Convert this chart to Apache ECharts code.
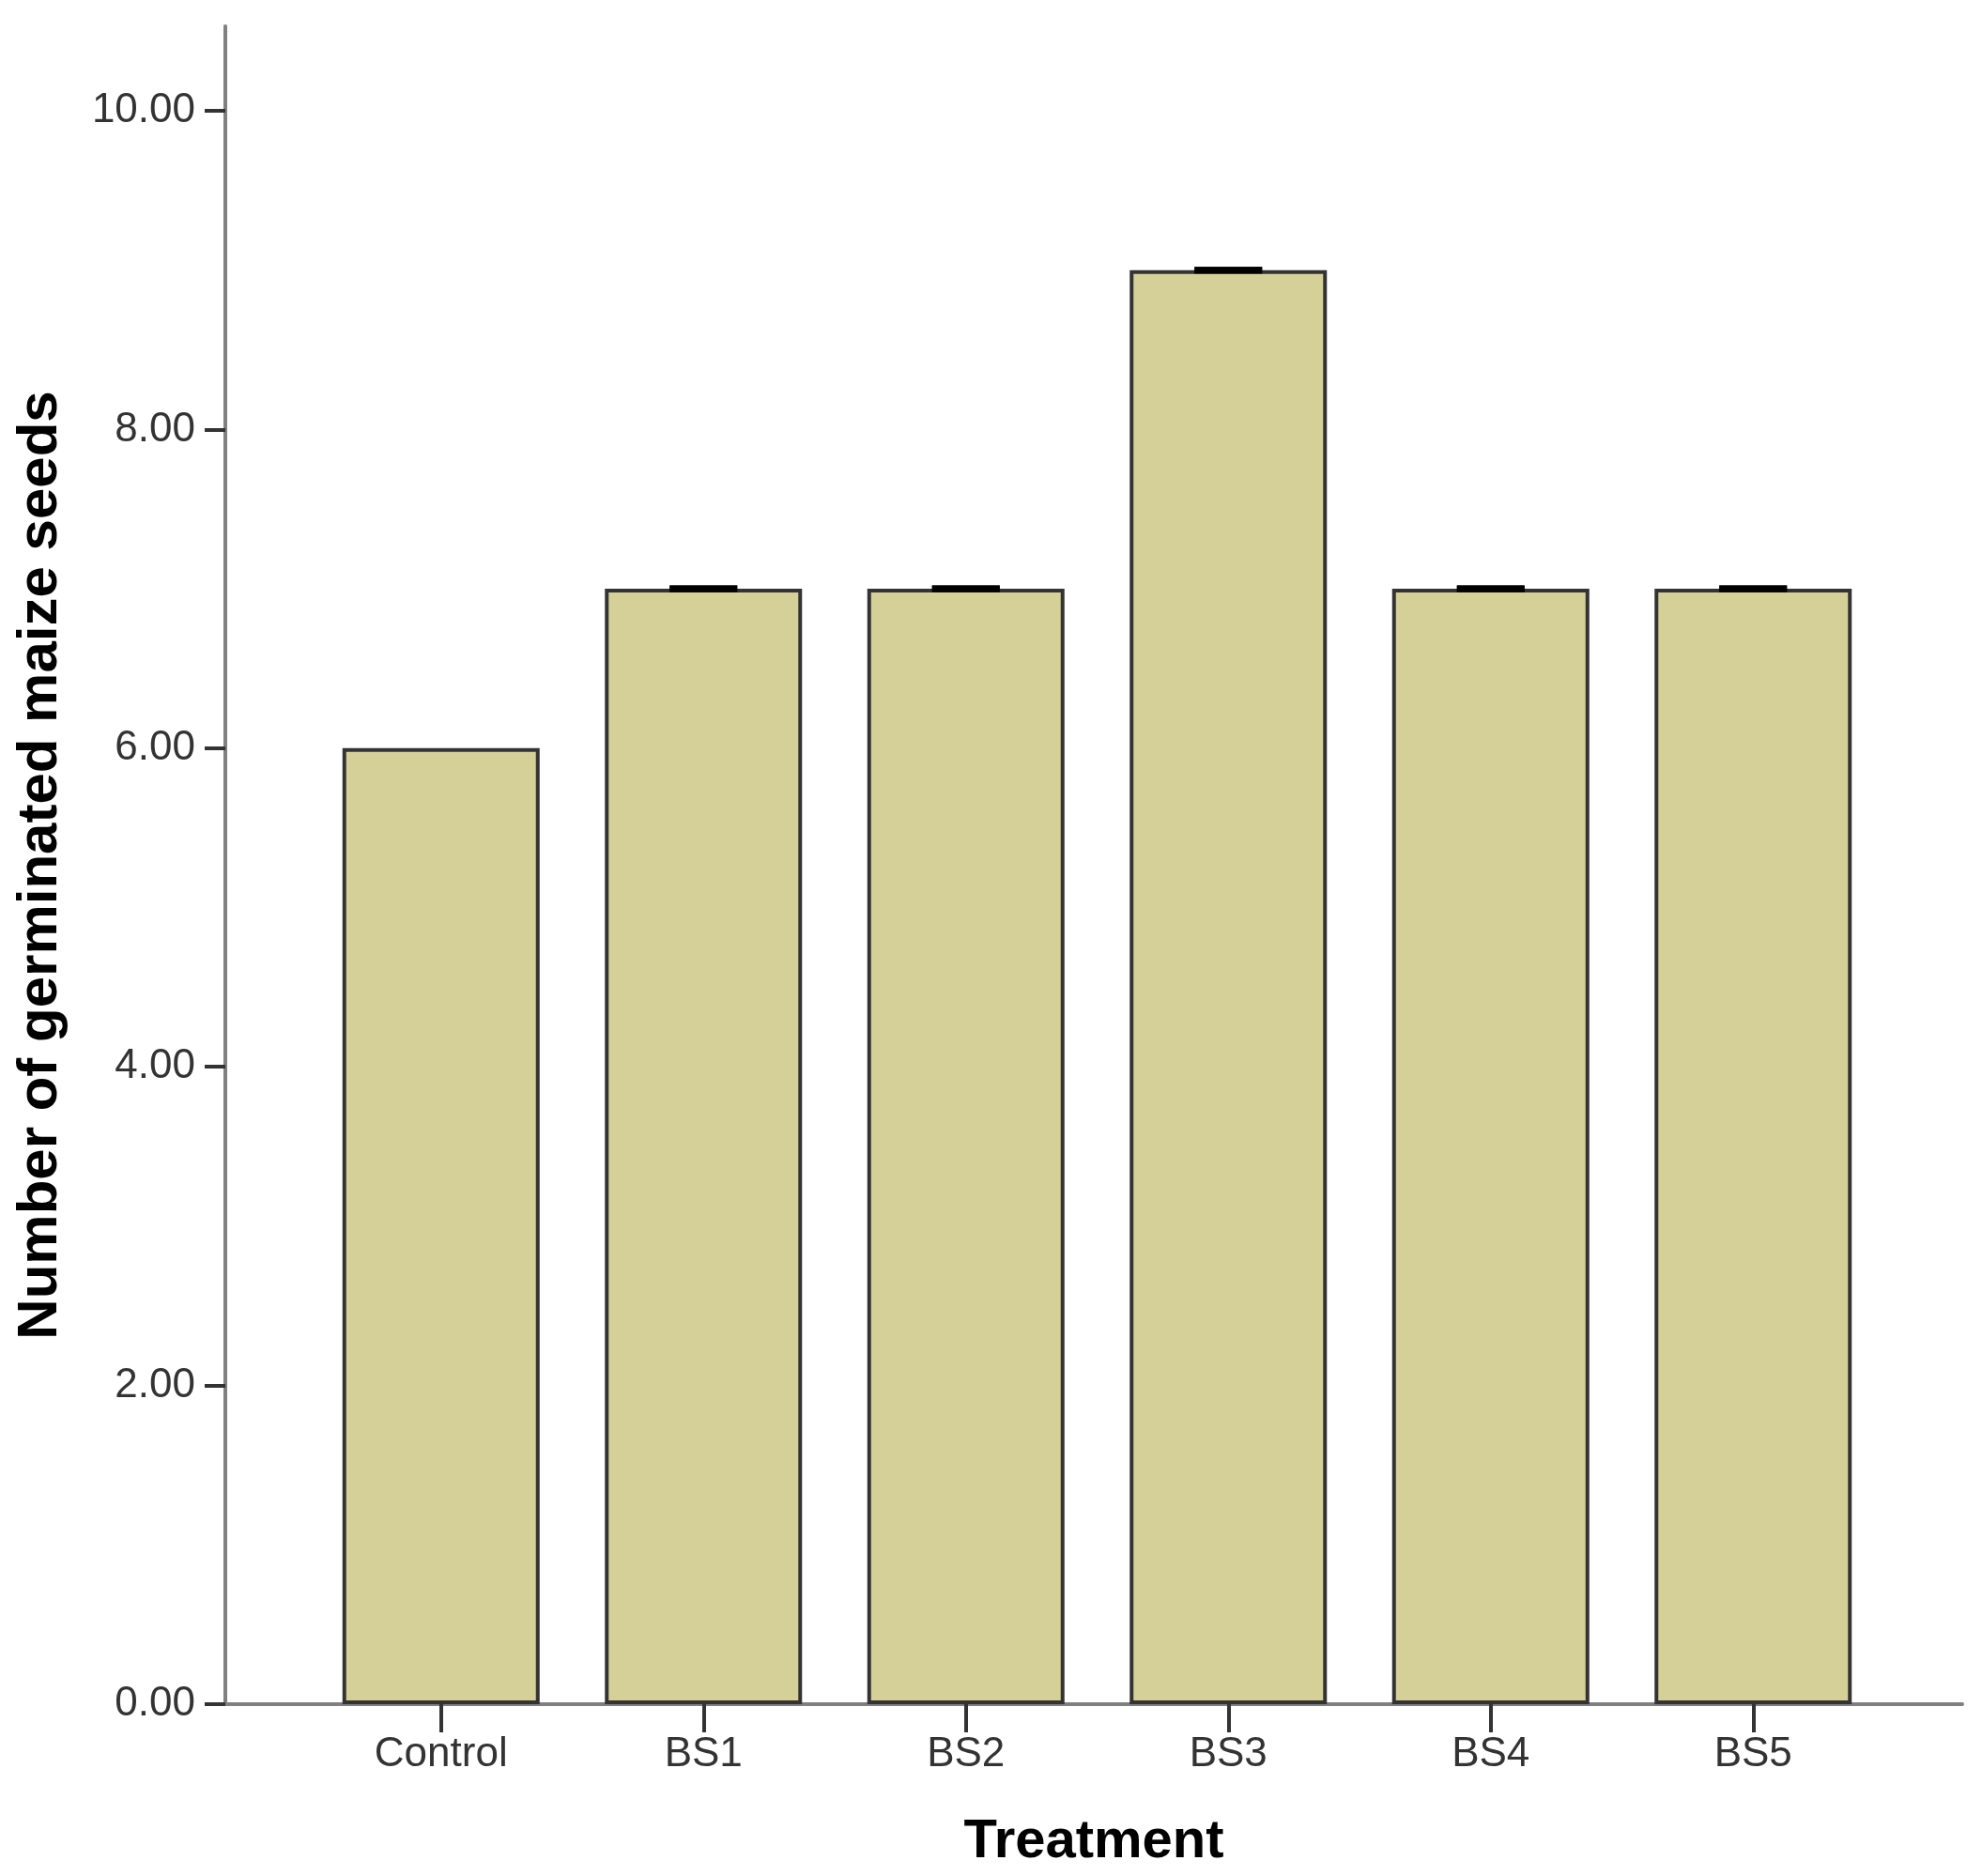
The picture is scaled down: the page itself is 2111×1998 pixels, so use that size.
<!DOCTYPE html>
<html>
<head>
<meta charset="utf-8">
<script src="https://cdn.jsdelivr.net/npm/echarts@6/dist/echarts.min.js"></script>
<style>
  html, body { margin: 0; padding: 0; background: #fff; }
  #chart { width: 2111px; height: 1998px; }
</style>
</head>
<body>
<div id="chart"></div>
<script>
// 数据
var categories = ['Control', 'BS1', 'BS2', 'BS3', 'BS4', 'BS5'];
var seedCounts = [6, 7, 7, 9, 7, 7];
// error bars (no spread in the source, Control has none drawn)
var errLow = [null, 7, 7, 9, 7, 7];
var errHigh = [null, 7, 7, 9, 7, 7];
var yTicks = [0, 2, 4, 6, 8, 10];

var font = 'Liberation Sans, Arial, sans-serif';
var chart = echarts.init(document.getElementById('chart'));

chart.setOption({
    backgroundColor: '#ffffff',
    animation: false,
    grid: [
        // bars
        { left: 330, right: 104, top: 118, bottom: 183 },
        // long axis lines + titles
        { left: 240, right: 21, top: 28, bottom: 183 }
    ],
    xAxis: [
        {
            type: 'category',
            gridIndex: 0,
            data: categories,
            axisLine: { show: false },
            axisTick: { show: true, alignWithLabel: true, length: 30, lineStyle: { color: '#333', width: 4 } },
            axisLabel: { margin: 32, fontSize: 44, color: '#333', fontFamily: font }
        },
        {
            type: 'value',
            gridIndex: 1,
            min: 0, max: 1,
            name: 'Treatment',
            nameLocation: 'middle',
            nameGap: 118,
            nameTextStyle: { fontSize: 58, fontWeight: 'bold', color: '#000', fontFamily: font },
            axisLine: { show: true, lineStyle: { color: '#808080', width: 4 } },
            axisTick: { show: false },
            axisLabel: { show: false },
            splitLine: { show: false }
        }
    ],
    yAxis: [
        {
            type: 'value',
            gridIndex: 0,
            min: yTicks[0],
            max: yTicks[yTicks.length - 1],
            interval: 2,
            offset: 90,
            axisLine: { show: false },
            axisTick: { show: true, length: 22, lineStyle: { color: '#333', width: 4 } },
            axisLabel: {
                margin: 32, fontSize: 44, color: '#333', fontFamily: font,
                formatter: function (v) { return v.toFixed(2); }
            },
            splitLine: { show: false }
        },
        {
            type: 'value',
            gridIndex: 1,
            min: 0, max: 1,
            name: 'Number of germinated maize seeds',
            nameLocation: 'middle',
            nameGap: 167,
            nameTextStyle: { fontSize: 60, fontWeight: 'bold', color: '#000', fontFamily: font },
            axisLine: { show: true, lineStyle: { color: '#808080', width: 4 } },
            axisTick: { show: false },
            axisLabel: { show: false },
            splitLine: { show: false }
        }
    ],
    series: [
        {
            type: 'bar',
            xAxisIndex: 0,
            yAxisIndex: 0,
            data: seedCounts,
            barWidth: 210,
            itemStyle: { color: '#d5d097', borderColor: '#333', borderWidth: 4 }
        },
        {
            type: 'custom',
            xAxisIndex: 0,
            yAxisIndex: 0,
            data: categories.map(function (c, i) { return [i, errLow[i], errHigh[i]]; }),
            renderItem: function (params, api) {
                if (api.value(1) == null || isNaN(api.value(1))) return;
                var lo = api.coord([api.value(0), api.value(1)]);
                var hi = api.coord([api.value(0), api.value(2)]);
                var half = 36;
                var st = { stroke: '#000', lineWidth: 7 };
                return {
                    type: 'group',
                    children: [
                        { type: 'line', shape: { x1: lo[0], y1: lo[1], x2: hi[0], y2: hi[1] }, style: st },
                        { type: 'line', shape: { x1: hi[0] - half, y1: hi[1], x2: hi[0] + half, y2: hi[1] }, style: st },
                        { type: 'line', shape: { x1: lo[0] - half, y1: lo[1], x2: lo[0] + half, y2: lo[1] }, style: st }
                    ]
                };
            },
            z: 5
        }
    ]
});
</script>
</body>
</html>
